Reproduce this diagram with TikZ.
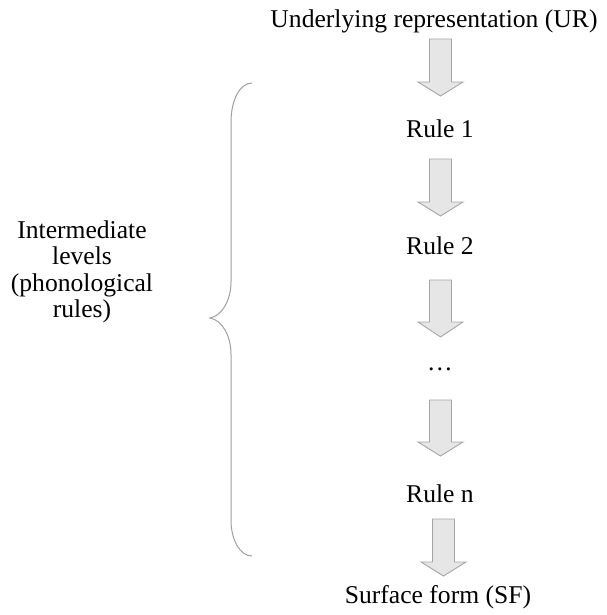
\documentclass[tikz,border=0pt]{standalone}
\usepackage{fontspec}
\setmainfont{Liberation Serif}
\definecolor{arrfill}{HTML}{E7E6E6}
\definecolor{arrline}{HTML}{A5A5A5}
\definecolor{bracecol}{HTML}{A0A0A0}
\tikzset{
  lbl/.style={font=\fontsize{25.6}{28.7}\selectfont, inner sep=0pt, anchor=base},
  blockarrow/.style={draw=arrline, fill=arrfill, line width=0.9pt, line join=miter},
  bracestyle/.style={draw=bracecol, line width=1pt}
}
% #1 centre x, #2 top y, #3 head base y, #4 tip y
\newcommand{\blockarr}[4]{%
  \path[blockarrow] (#1-11,#2) -- (#1+11,#2) -- (#1+11,#3) -- (#1+22.5,#3)
    -- (#1,#4) -- (#1-22.5,#3) -- (#1-11,#3) -- cycle;}
\begin{document}
\begin{tikzpicture}[x=1pt,y=-1pt]
\useasboundingbox (0,0) rectangle (606,615);
\node[lbl] (ur) at (434,28) {Underlying representation (UR)};
\node[lbl] (r1) at (440,137) {Rule 1};
\node[lbl] (r2) at (440,254) {Rule 2};
\node[lbl] (dots) at (440,370) {…};
\node[lbl] (rn) at (440,502) {Rule n};
\node[lbl] (sf) at (438,603) {Surface form (SF)};
\node[font=\fontsize{25.6}{26.5}\selectfont, inner sep=0pt, align=center] (inter) at (82,272)
  {Intermediate\\levels\\(phonological\\rules)};
\blockarr{440.5}{39}{82}{96}
\blockarr{440.5}{159}{202}{216}
\blockarr{440.5}{280}{322}{337}
\blockarr{440.5}{400}{442}{456}
\blockarr{443.5}{519}{562}{576}
\path[bracestyle] (252,83) .. controls (240,83) and (231,100) .. (231,122)
  -- (231,282) .. controls (231,300) and (222,316) .. (210,318)
  .. controls (222,320) and (231,336) .. (231,354)
  -- (231,520) .. controls (231,540) and (240,556) .. (252,556);
\end{tikzpicture}
\end{document}
